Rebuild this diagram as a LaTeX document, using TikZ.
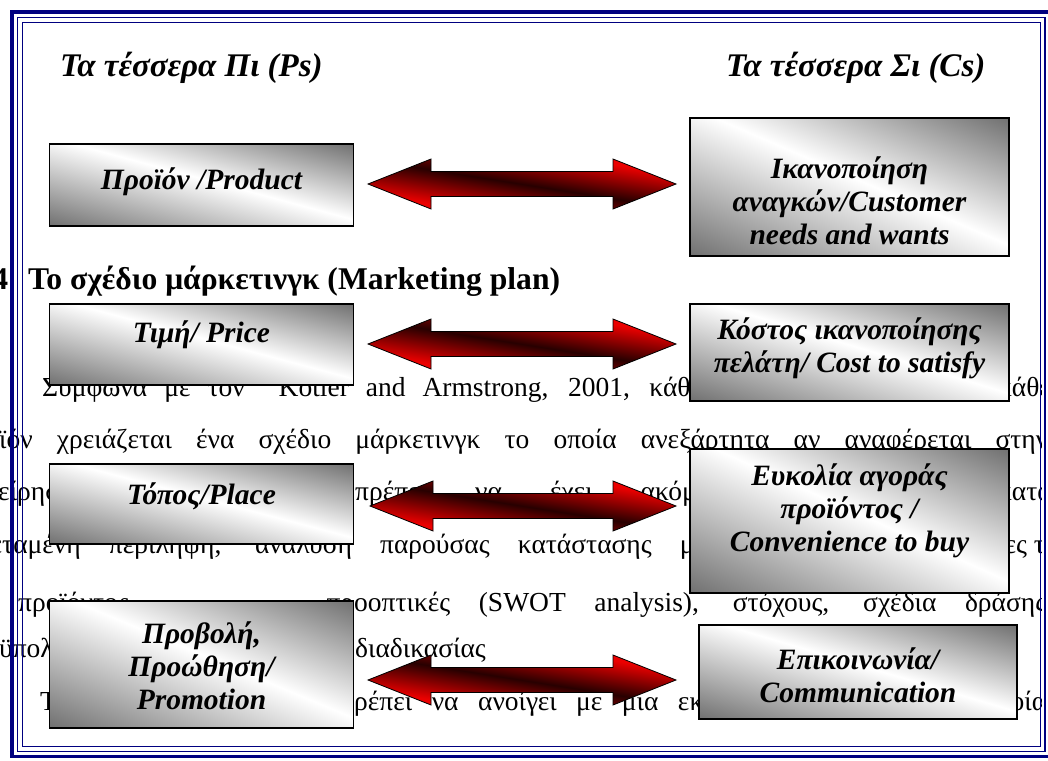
\documentclass[tikz,border=0pt]{standalone}
\usepackage{fontspec}
\setmainfont{Liberation Serif}
\usetikzlibrary{calc}

\definecolor{navy}{RGB}{0,0,128}
\definecolor{cardgray}{RGB}{112,112,112}
\definecolor{arrred}{RGB}{235,0,0}
\definecolor{arrdark}{RGB}{40,0,0}

\pgfdeclarehorizontalshading{cardshade}{100bp}{color(0bp)=(cardgray); color(25bp)=(cardgray); color(52bp)=(white); color(75bp)=(cardgray); color(100bp)=(cardgray)}
\pgfdeclarehorizontalshading{arrowshade}{100bp}{color(0bp)=(arrred); color(33bp)=(arrred); color(50bp)=(arrdark); color(67bp)=(arrred); color(100bp)=(arrred)}

% grey card: light band along the falling diagonal, then the black edge
\newcommand{\cardfill}[3]{%
  \pgfmathsetmacro\cardang{atan2(#2,#3)}%
  \pgfmathsetmacro\carddiag{100*sqrt((#2/100)^2+(#3/100)^2)}%
  \pgfmathsetmacro\cardspan{100*(#2/100)*(#3/100)/(\carddiag/100)}%
  \begin{scope}
    \clip (#1.north west) rectangle (#1.south east);
    \fill[white] (#1.north west) rectangle (#1.south east);
    \shade[shading=cardshade,transform canvas={rotate around={\cardang:(#1.center)}}]
      ($(#1.center)+(-\cardspan,-\carddiag/2)$) rectangle ($(#1.center)+(\cardspan,\carddiag/2)$);
  \end{scope}
  \draw[cardedge] (#1.north west) rectangle (#1.south east);}

% fat two-headed arrow between two tips
\newcommand{\twoway}[2]{%
  \coordinate (#1mid) at ($(#1)!0.5!(#2)$);
  \begin{scope}
    \clip (#1) -- ($(#1)+(63,-25)$) -- ($(#1)+(63,-12.5)$) -- ($(#2)+(-63,-12.5)$)
      -- ($(#2)+(-63,-25)$) -- (#2) -- ($(#2)+(-63,25)$) -- ($(#2)+(-63,12.5)$)
      -- ($(#1)+(63,12.5)$) -- ($(#1)+(63,25)$) -- cycle;
    \shade[shading=arrowshade,transform canvas={rotate around={81:(#1mid)}}]
      ($(#1mid)+(-49.4,-160)$) rectangle ($(#1mid)+(49.4,160)$);
  \end{scope}
  \draw[twoarrow] (#1) -- ($(#1)+(63,-25)$) -- ($(#1)+(63,-12.5)$) -- ($(#2)+(-63,-12.5)$)
    -- ($(#2)+(-63,-25)$) -- (#2) -- ($(#2)+(-63,25)$) -- ($(#2)+(-63,12.5)$)
    -- ($(#1)+(63,12.5)$) -- ($(#1)+(63,25)$) -- cycle;}

\begin{document}
\begin{tikzpicture}[x=1pt,y=-1pt]
  \tikzstyle{bodyline}=[anchor=base west,inner sep=0pt,font=\fontsize{27.5}{32}\selectfont]
  \tikzstyle{headline}=[anchor=base west,inner sep=0pt,font=\fontsize{31.6}{36}\selectfont\bfseries]
  \tikzstyle{colhead}=[anchor=base west,inner sep=0pt,font=\fontsize{33}{38}\selectfont\bfseries\itshape]
  \tikzstyle{card}=[anchor=north west,inner sep=0pt,outer sep=0pt]
  \tikzstyle{cardedge}=[draw=black,line width=1.3pt]
  \tikzstyle{cardtxt}=[inner sep=0pt,align=center,font=\fontsize{29.5}{33}\selectfont\bfseries\itshape]
  \tikzstyle{twoarrow}=[draw=black,line width=0.8pt]
  \tikzstyle{rule}=[draw=navy]

  \useasboundingbox[fill=white] (0,0) rectangle (1048,760);

  \begin{scope}
    \clip (0,0) rectangle (1041,760);
    \node[headline,anchor=base east] (secnum) at (8.5,289) {4};
    \node[headline] (sectitle) at (28,289) {Το σχέδιο μάρκετινγκ (Marketing plan)};
    \node[bodyline] (l2a) at (42,396) {\makebox[660pt][s]{Σύμφωνα με τον \ Kotler and Armstrong, 2001, κάθε}};
    \node[bodyline] (l2b) at (998,396) {κάθε επιχείρηση};
    \node[bodyline] (l3) at (-1,448) {\makebox[1049pt][s]{\llap{προ}ϊόν χρειάζεται ένα σχέδιο μάρκετινγκ το οποία ανεξάρτητα αν αναφέρεται στην}};
    \node[bodyline] (l4a) at (-2,500) {\llap{επιχ}είρηση};
    \node[bodyline] (l4b) at (355,500) {\makebox[356pt][s]{πρέπει να έχει ακόμα}};
    \node[bodyline] (l4c) at (998,500) {καταναλωτών};
    \node[bodyline] (l5a) at (2,553) {\makebox[704pt][s]{\llap{εκτε}ταμένη περιληψη, αναλυση παρούσας κατάστασης με}};
    \node[bodyline] (l5b) at (1016,553) {\llap{ανάγκε}ς του};
    \node[bodyline] (l6a) at (18,611) {προϊόντος};
    \node[bodyline] (l6b) at (354,611) {\makebox[692pt][s]{\llap{πρ}οοπτικές (SWOT analysis), στόχους, σχέδια δράσης}};
    \node[bodyline] (l7a) at (-1,657.5) {\llap{προ}ϋπολογισμό};
    \node[bodyline] (l7b) at (355,657.5) {διαδικασίας};
    \node[bodyline] (l8a) at (40,710) {Το σχέδιο μάρκετινγκ};
    \node[bodyline] (l8b) at (354,710) {\makebox[692pt][s]{\llap{π}ρέπει να ανοίγει με μια εκτεταμένη περίληψη η οποία}};
  \end{scope}

  \draw[rule,line width=3.5pt] (12,12) rectangle (1050.5,756.5);
  \draw[rule,line width=1.3pt] (17.5,17.5) rectangle (1045,751.5);
  \draw[rule,line width=1.3pt] (22.5,22.5) rectangle (1040.5,746.5);

  \node[colhead] (ps) at (60,76) {Τα τέσσερα Πι (Ps)};
  \node[colhead] (cs) at (726,76) {Τα τέσσερα Σι (Cs)};

  \coordinate (a1l) at (368,184);   \coordinate (a1r) at (676,184);
  \coordinate (a2l) at (368,344);   \coordinate (a2r) at (676,344);
  \coordinate (a3l) at (370,506);   \coordinate (a3r) at (676,506);
  \coordinate (a4l) at (368,680);   \coordinate (a4r) at (676,680);
  \twoway{a1l}{a1r}
  \twoway{a2l}{a2r}
  \twoway{a3l}{a3r}
  \twoway{a4l}{a4r}

  \node[card,minimum width=304pt,minimum height=82pt] (prod) at (49.5,144) {};
  \node[card,minimum width=304pt,minimum height=81pt] (price) at (49.5,304) {};
  \node[card,minimum width=304pt,minimum height=80pt] (place) at (49.5,464) {};
  \node[card,minimum width=304pt,minimum height=127pt] (promo) at (49.5,601) {};
  \node[card,minimum width=319pt,minimum height=138pt] (cust) at (690,118) {};
  \node[card,minimum width=319pt,minimum height=97pt] (cost) at (690,304) {};
  \node[card,minimum width=319pt,minimum height=144pt] (conv) at (690,449) {};
  \node[card,minimum width=318pt,minimum height=94pt] (comm) at (699,625) {};
  \cardfill{prod}{304}{82}
  \cardfill{price}{304}{81}
  \cardfill{place}{304}{80}
  \cardfill{promo}{304}{127}
  \cardfill{cust}{319}{138}
  \cardfill{cost}{319}{97}
  \cardfill{conv}{319}{144}
  \cardfill{comm}{318}{94}

  \node[cardtxt] (prodtxt) at ([yshift=3pt]prod.center) {Προϊόν /Product};
  \node[cardtxt] (pricetxt) at ([yshift=10pt]price.center) {Τιμή/ Price};
  \node[cardtxt] (placetxt) at ([yshift=8pt]place.center) {Τόπος/Place};
  \node[cardtxt] (promotxt) at ([yshift=-1pt]promo.center) {Προβολή,\\Προώθηση/\\Promotion};
  \node[cardtxt] (custtxt) at ([yshift=-14pt]cust.center) {Ικανοποίηση\\αναγκών/Customer\\needs and wants};
  \node[cardtxt] (costtxt) at ([yshift=4pt]cost.center) {Κόστος ικανοποίησης\\πελάτη/ Cost to satisfy};
  \node[cardtxt] (convtxt) at ([yshift=10pt]conv.center) {Ευκολία αγοράς\\προϊόντος /\\Convenience to buy};
  \node[cardtxt] (commtxt) at ([yshift=-3pt]comm.center) {Επικοινωνία/\\Communication};
\end{tikzpicture}
\end{document}
